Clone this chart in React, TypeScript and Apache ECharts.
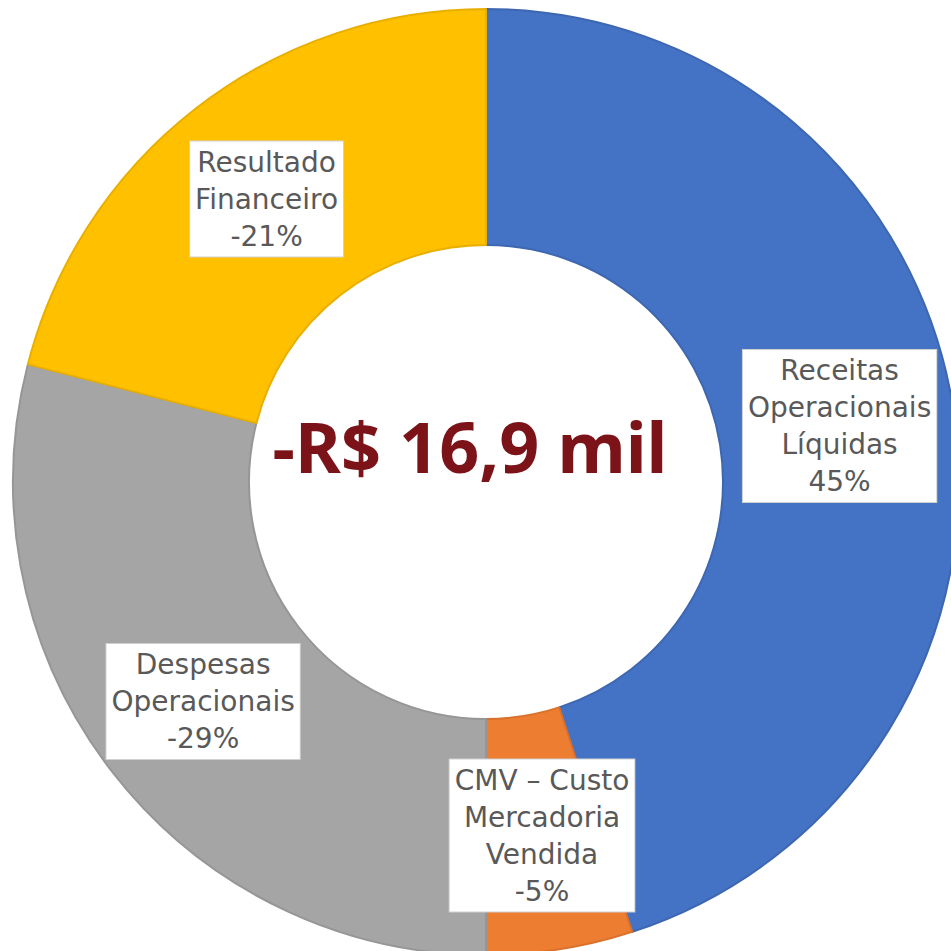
import React, { useEffect, useRef } from "react";
import * as echarts from "echarts";

const categories = [
  "Receitas\nOperacionais\nLíquidas",
  "CMV – Custo\nMercadoria\nVendida",
  "Despesas\nOperacionais",
  "Resultado\nFinanceiro",
];
const signedShares = [45, -5, -29, -21];
const sliceColors = ["#4472C4", "#ED7D31", "#A5A5A5", "#FFC000"];
const sliceBorders = ["#3E67B1", "#D9712C", "#969696", "#E8AF00"];
const centerText = "-R$ 16,9 mil";

export default function App() {
  const ref = useRef<HTMLDivElement>(null);
  useEffect(() => {
    if (!ref.current) return;
    const chart = echarts.init(ref.current, undefined, { renderer: "svg" });
    const data = categories.map((name, i) => ({
      name,
      value: Math.abs(signedShares[i]),
      signed: signedShares[i],
      itemStyle: { color: sliceColors[i], borderColor: sliceBorders[i], borderWidth: 2 },
    }));
    chart.setOption({
      animation: false,
      backgroundColor: "#ffffff",
      series: [
        {
          type: "pie",
          center: [486, 482],
          radius: [237, 473],
          startAngle: 90,
          clockwise: true,
          avoidLabelOverlap: false,
          label: {
            show: true,
            position: "inside",
            formatter: (p: any) => `${p.name}\n${p.data.signed}%`,
            color: "#595959",
            fontFamily: "DejaVu Sans",
            fontSize: 28,
            lineHeight: 37,
            align: "center",
            backgroundColor: "#ffffff",
            borderColor: "#D0D0D0",
            borderWidth: 1,
            padding: [2, 5, 2, 5],
          },
          labelLine: { show: false },
          emphasis: { disabled: true },
          data,
        },
      ],
      graphic: [
        {
          type: "text",
          x: 470,
          y: 446,
          style: {
            text: centerText,
            fill: "#7B1319",
            font: "bold 70px 'Noto Sans'",
            textAlign: "center",
            textVerticalAlign: "middle",
          },
        },
      ],
    });
    return () => chart.dispose();
  }, []);
  return (
    <div
      ref={ref}
      style={{ position: "fixed", left: 0, top: 0, width: 951, height: 951 }}
    />
  );
}
